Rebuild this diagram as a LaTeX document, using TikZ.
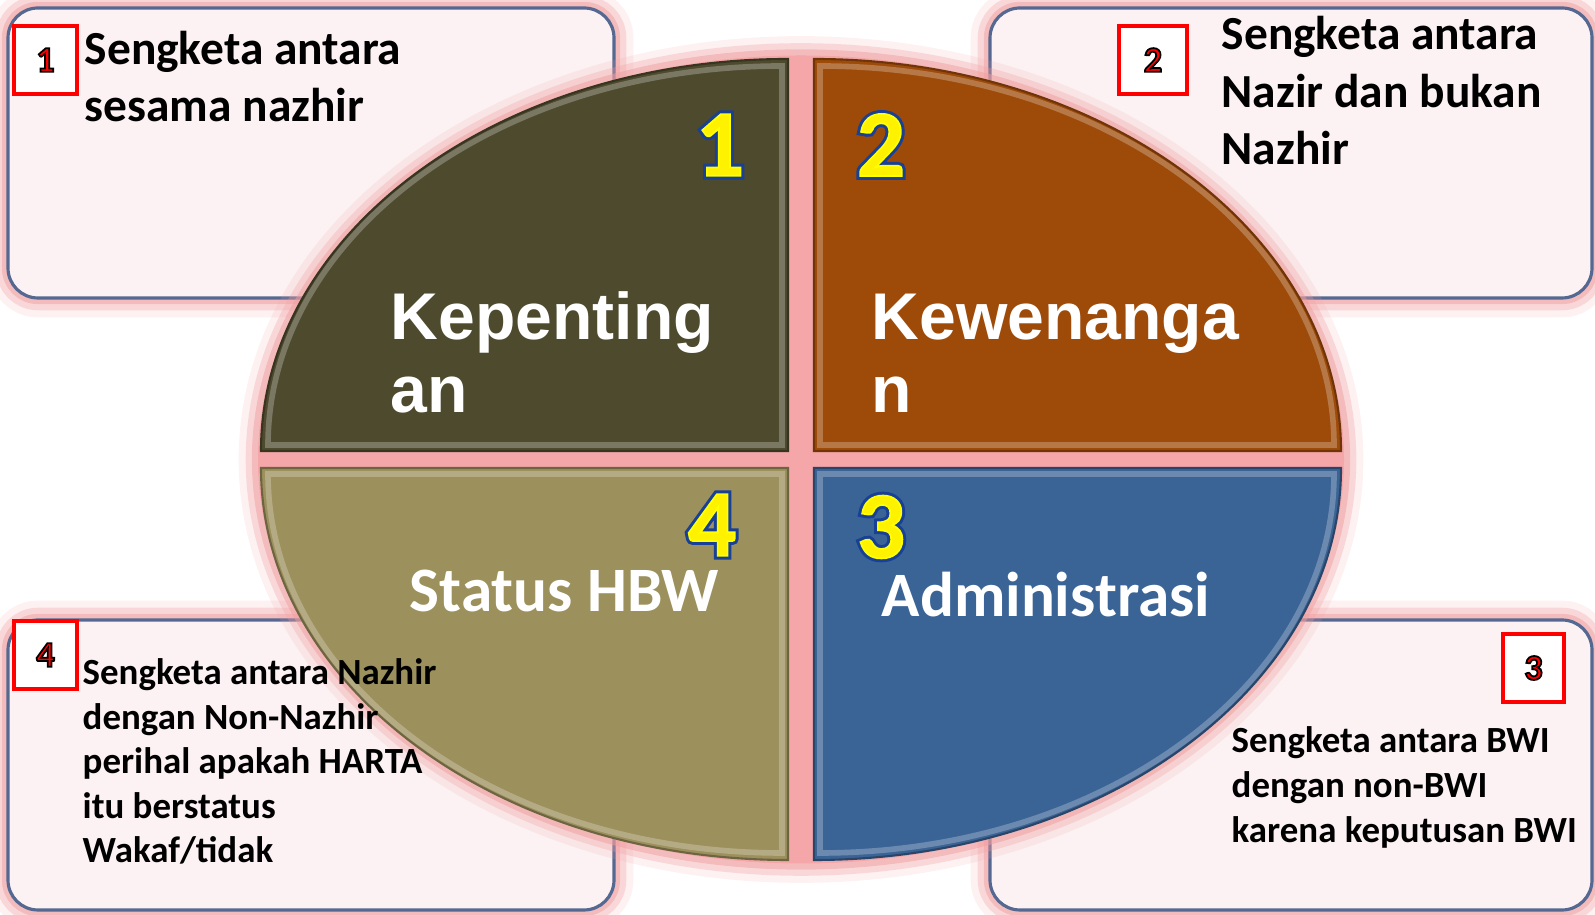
\documentclass[tikz,border=0pt]{standalone}
\usepackage{fontspec}
\setmainfont{Carlito}
\newfontfamily\arialfont{Liberation Sans}
\usepackage{tikz}

\definecolor{boxfill}{RGB}{252,242,243}
\definecolor{boxline}{RGB}{84,104,146}
\definecolor{glowpink}{RGB}{240,158,160}
\definecolor{gappink}{RGB}{244,166,168}
\definecolor{kepcol}{RGB}{78,74,46}
\definecolor{kewcol}{RGB}{158,75,10}
\definecolor{admcol}{RGB}{59,100,150}
\definecolor{hbwcol}{RGB}{156,144,92}
\definecolor{numblue}{RGB}{24,64,150}

\tikzset{
  glow/.style={preaction={draw=glowpink, line width=11pt, opacity=.15},
               preaction={draw=glowpink, line width=7pt, opacity=.3},
               preaction={draw=glowpink, line width=3.5pt, opacity=.5}},
  infobox/.style={glow, fill=boxfill, draw=boxline, line width=.9pt, rounded corners=3mm},
  redsq/.style={draw=red, fill=white, line width=1.2pt},
  bevel/.style={draw=white, opacity=.25, line width=1.6pt},
  bigtxt/.style={font=\bfseries\fontsize{13.5}{16}\selectfont, anchor=base west, inner sep=0},
  smalltxt/.style={font=\bfseries\fontsize{10.5}{12.6}\selectfont, anchor=base west, inner sep=0},
  arialtxt/.style={font=\arialfont\bfseries\fontsize{18.8}{21}\selectfont, text=white, anchor=base west, inner sep=0},
  calitxt/.style={font=\bfseries\fontsize{18}{21}\selectfont, text=white, anchor=base west, inner sep=0},
  numfont/.style={font=\bfseries\fontsize{27}{30}\selectfont, inner sep=0, text=yellow},
  rednum/.style={font=\bfseries\fontsize{10.3}{12}\selectfont, inner sep=0, text=red}
}

% text filled and stroked with a rim colour (r g b)
\newcommand{\rimmed}[3]{\special{pdf:literal direct 2 Tr #2 w #3 RG}#1\special{pdf:literal direct 0 Tr}}
% yellow digit over a fat blue copy
\newcommand{\yellownum}[1]{\rlap{\color{numblue}\rimmed{#1}{2.2}{0.09 0.25 0.59}}\rimmed{#1}{0.5}{1 1 0}}

\begin{document}
\begin{tikzpicture}[x=0.1mm, y=0.1mm]
  \useasboundingbox (0,0) rectangle (1595,915);

  % Draw the four info boxes
  \draw[infobox] (8,617) rectangle (614,907);
  \draw[infobox] (990,617) rectangle (1592,907);
  \draw[infobox] (8,5) rectangle (614,295);
  \draw[infobox] (990,5) rectangle (1592,295);

  % Red number squares
  \node[redsq, minimum width=6.3mm, minimum height=6.8mm] (sqa) at (45.5,855) {};
  \node[redsq, minimum width=6.8mm, minimum height=6.8mm] (sqb) at (1153,855) {};
  \node[redsq, minimum width=6.3mm, minimum height=6.8mm] (sqd) at (45.5,260) {};
  \node[redsq, minimum width=6.1mm, minimum height=6.8mm] (sqc) at (1533.5,247) {};
  \node[rednum] (ra) at (sqa.center) {\rimmed{1}{0.5}{0 0 0}};
  \node[rednum] (rb) at (sqb.center) {\rimmed{2}{0.5}{0 0 0}};
  \node[rednum] (rc) at (sqc.center) {\rimmed{3}{0.5}{0 0 0}};
  \node[rednum] (rd) at (sqd.center) {\rimmed{4}{0.5}{0 0 0}};

  % Box texts
  \foreach \txt [count=\i] in {Sengketa antara, sesama nazhir}
    \node[bigtxt] (txta\i) at (84,{850-57*(\i-1)}) {\txt};
  \foreach \txt [count=\i] in {Sengketa antara, Nazir dan bukan, Nazhir}
    \node[bigtxt] (txtb\i) at (1221,{865-57.5*(\i-1)}) {\txt};
  \foreach \txt [count=\i] in {Sengketa antara BWI, dengan non-BWI, karena keputusan BWI}
    \node[smalltxt] (txtc\i) at (1231,{162-45*(\i-1)}) {\txt};

  % Pink bed under the quadrants fills the gaps
  \fill[glow, gappink] (801,455.5) ellipse[x radius=543, y radius=404];

  % Quadrants of the ellipse
  \foreach \cx/\cy/\sa/\dx/\dy/\qcol in {788/464/90/-1/1/kepcol, 814/464/0/1/1/kewcol,
                                          788/447/180/-1/-1/hbwcol, 814/447/270/1/-1/admcol}{
    \fill[\qcol] (\cx,\cy) -- ++(\sa:527 and 392)
      arc[start angle=\sa, delta angle=90, x radius=527, y radius=392] -- cycle;
    \draw[\qcol!70!black, line width=.6pt] (\cx,\cy) -- ++(\sa:527 and 392)
      arc[start angle=\sa, delta angle=90, x radius=527, y radius=392] -- cycle;
    \draw[bevel] ({\cx+(\dx)*6},{\cy+(\dy)*6}) -- ++(\sa:514 and 379)
      arc[start angle=\sa, delta angle=90, x radius=514, y radius=379] -- cycle;
  }

  % Quadrant labels
  \node[arialtxt] (kep1) at (390,575) {Kepenting};
  \node[arialtxt] (kep2) at (390,502) {an};
  \node[arialtxt] (kew1) at (871,575) {Kewenanga};
  \node[arialtxt] (kew2) at (871,502) {n};
  \node[calitxt] (hbw) at (409,303) {Status HBW};
  \node[calitxt] (adm) at (881,298) {Administrasi};

  % Big yellow numbers
  \node[numfont] (na) at (720,770) {\yellownum{1}};
  \node[numfont] (nb) at (881,770) {\yellownum{2}};
  \node[numfont] (nc) at (881,388) {\yellownum{3}};
  \node[numfont] (nd) at (712,390) {\yellownum{4}};

  % Box 4 text sits over the quadrant
  \foreach \txt [count=\i] in {Sengketa antara Nazhir, dengan Non-Nazhir, perihal apakah HARTA,
                               itu berstatus, Wakaf/tidak}
    \node[smalltxt] (txtd\i) at (82,{230-44.5*(\i-1)}) {\txt};
\end{tikzpicture}
\end{document}
